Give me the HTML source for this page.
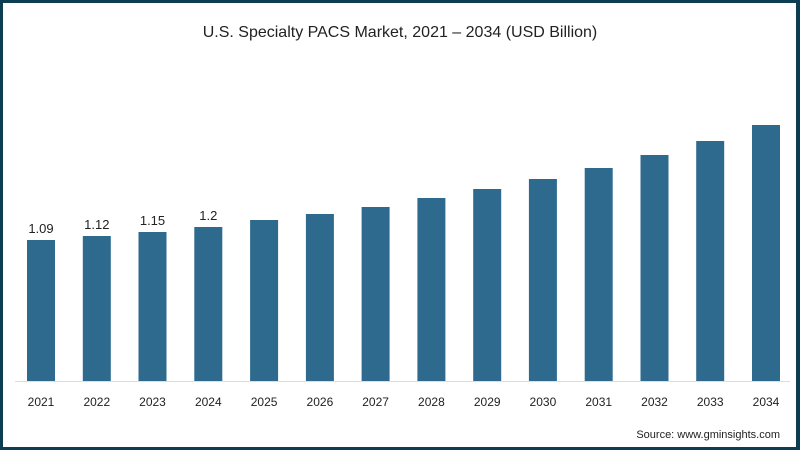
<!DOCTYPE html>
<html><head><meta charset="utf-8"><style>
html,body{margin:0;padding:0;background:#fff;}
svg{display:block;font-family:"Liberation Sans",sans-serif;}
</style></head><body>
<svg width="800" height="450" viewBox="0 0 800 450">
<rect x="0" y="0" width="800" height="450" fill="#0d3d52"/>
<rect x="3" y="3" width="793" height="444" fill="#fff"/>
<text x="400" y="37" text-anchor="middle" font-size="16" fill="#222">U.S. Specialty PACS Market, 2021 – 2034 (USD Billion)</text>
<line x1="15" y1="381.5" x2="790" y2="381.5" stroke="#ddd" stroke-width="1"/>
<g fill="#2e6a8e">
<rect x="27" y="240" width="28" height="141"/>
<rect x="82.8" y="236" width="28" height="145"/>
<rect x="138.5" y="232" width="28" height="149"/>
<rect x="194.3" y="227" width="28" height="154"/>
<rect x="250.1" y="220" width="28" height="161"/>
<rect x="305.9" y="214" width="28" height="167"/>
<rect x="361.6" y="207" width="28" height="174"/>
<rect x="417.4" y="198" width="28" height="183"/>
<rect x="473.2" y="189" width="28" height="192"/>
<rect x="528.9" y="179" width="28" height="202"/>
<rect x="584.7" y="168" width="28" height="213"/>
<rect x="640.5" y="155" width="28" height="226"/>
<rect x="696.2" y="141" width="28" height="240"/>
<rect x="752" y="125" width="28" height="256"/>
</g>
<g font-size="13" fill="#222" text-anchor="middle">
<text x="41" y="233">1.09</text>
<text x="96.8" y="229">1.12</text>
<text x="152.5" y="225">1.15</text>
<text x="208.3" y="220">1.2</text>
</g>
<g font-size="12" fill="#222" text-anchor="middle">
<text x="41" y="406">2021</text>
<text x="96.8" y="406">2022</text>
<text x="152.5" y="406">2023</text>
<text x="208.3" y="406">2024</text>
<text x="264.1" y="406">2025</text>
<text x="319.9" y="406">2026</text>
<text x="375.6" y="406">2027</text>
<text x="431.4" y="406">2028</text>
<text x="487.2" y="406">2029</text>
<text x="542.9" y="406">2030</text>
<text x="598.7" y="406">2031</text>
<text x="654.5" y="406">2032</text>
<text x="710.2" y="406">2033</text>
<text x="766" y="406">2034</text>
</g>
<text x="780" y="438" text-anchor="end" font-size="11" fill="#222">Source: www.gminsights.com</text>
</svg>
</body></html>
